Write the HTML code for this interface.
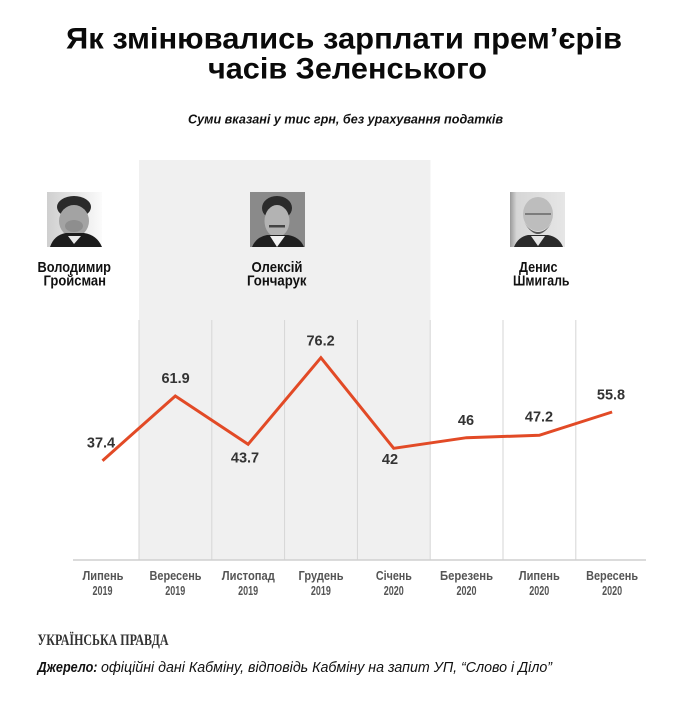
<!DOCTYPE html>
<html>
<head>
<meta charset="utf-8">
<style>
  html, body { margin:0; padding:0; background:#fff; }
  body { width:690px; height:711px; overflow:hidden; }
  svg { display:block; }
  text { font-family: "Liberation Sans", "Noto Sans CJK SC", sans-serif; }
</style>
</head>
<body>
<svg width="690" height="711" viewBox="0 0 690 711" xmlns="http://www.w3.org/2000/svg">
  <defs>
    <linearGradient id="bg1" x1="0" y1="0" x2="1" y2="0">
      <stop offset="0" stop-color="#cfcfcf"/>
      <stop offset="1" stop-color="#fbfbfb"/>
    </linearGradient>
    <linearGradient id="bg3" x1="0" y1="0" x2="1" y2="0">
      <stop offset="0" stop-color="#9a9a9a"/>
      <stop offset="0.12" stop-color="#d6d6d6"/>
      <stop offset="1" stop-color="#e6e6e6"/>
    </linearGradient>
  </defs>

  <rect x="0" y="0" width="690" height="711" fill="#fff"/>

  <!-- Title -->
  <text x="66" y="48.5" font-size="30" font-weight="bold" fill="#0a0a0a" textLength="556" lengthAdjust="spacingAndGlyphs">Як змінювались зарплати прем’єрів</text>
  <text x="208" y="78.5" font-size="30" font-weight="bold" fill="#0a0a0a" textLength="279" lengthAdjust="spacingAndGlyphs">часів Зеленського</text>

  <!-- Subtitle -->
  <text x="188" y="123.5" font-size="13" font-weight="bold" font-style="italic" fill="#111" textLength="315" lengthAdjust="spacingAndGlyphs">Суми вказані у тис грн, без урахування податків</text>

  <!-- Gray band -->
  <rect x="139" y="160" width="291.5" height="400" fill="#f0f0f0"/>

  <!-- Grid lines -->
  <g stroke="#d6d6d6" stroke-width="1">
    <line x1="139" y1="320" x2="139" y2="560"/>
    <line x1="211.8" y1="320" x2="211.8" y2="560"/>
    <line x1="284.6" y1="320" x2="284.6" y2="560"/>
    <line x1="357.4" y1="320" x2="357.4" y2="560"/>
    <line x1="430.2" y1="320" x2="430.2" y2="560"/>
    <line x1="503" y1="320" x2="503" y2="560"/>
    <line x1="575.8" y1="320" x2="575.8" y2="560"/>
  </g>
  <line x1="73" y1="560" x2="646" y2="560" stroke="#cfcfcf" stroke-width="1.5"/>

  <!-- Photo 1: Гройсман -->
  <g>
    <rect x="47" y="192" width="55" height="55" fill="url(#bg1)"/>
    <ellipse cx="74" cy="207" rx="17" ry="11" fill="#2a2a2a"/>
    <ellipse cx="74" cy="221" rx="15" ry="16" fill="#a3a3a3"/>
    <ellipse cx="74" cy="226" rx="9" ry="6" fill="#8e8e8e"/>
    <path d="M50 247 Q54 235 66 233 L84 233 Q97 235 102 247 Z" fill="#1c1c1c"/>
    <path d="M68 236 L74 244 L81 236 Z" fill="#eaeaea"/>
  </g>

  <!-- Photo 2: Гончарук -->
  <g>
    <rect x="250" y="192" width="55" height="55" fill="#8a8a8a"/>
    <ellipse cx="277" cy="208" rx="15" ry="12" fill="#2b2b2b"/>
    <ellipse cx="277" cy="221" rx="12.5" ry="16" fill="#b3b3b3"/>
    <rect x="269" y="225" width="16" height="2.5" fill="#444"/>
    <path d="M252 247 Q256 237 267 235 L288 235 Q300 237 304 247 Z" fill="#202020"/>
    <path d="M270 236 L277 247 L285 236 Z" fill="#f2f2f2"/>
  </g>

  <!-- Photo 3: Шмигаль -->
  <g>
    <rect x="510" y="192" width="55" height="55" fill="url(#bg3)"/>
    <ellipse cx="538" cy="214" rx="15" ry="17" fill="#bdbdbd"/>
    <path d="M524 222 Q538 246 552 222 Q546 232 538 232 Q530 232 524 222 Z" fill="#555"/>
    <line x1="525" y1="214" x2="551" y2="214" stroke="#666" stroke-width="1.5"/>
    <path d="M514 247 Q518 237 528 235 L548 235 Q559 237 563 247 Z" fill="#2a2a2a"/>
    <path d="M531 236 L538 246 L545 236 Z" fill="#e6e6e6"/>
  </g>

  <!-- Names -->
  <g font-size="15" font-weight="bold" fill="#111" >
    <text x="37.5" y="272" textLength="73.5" lengthAdjust="spacingAndGlyphs">Володимир</text>
    <text x="43.5" y="285.5" textLength="62.5" lengthAdjust="spacingAndGlyphs">Гройсман</text>
    <text x="251.5" y="272" textLength="51" lengthAdjust="spacingAndGlyphs">Олексій</text>
    <text x="247" y="285.5" textLength="59.5" lengthAdjust="spacingAndGlyphs">Гончарук</text>
    <text x="519" y="272" textLength="38.5" lengthAdjust="spacingAndGlyphs">Денис</text>
    <text x="513" y="285.5" textLength="56.5" lengthAdjust="spacingAndGlyphs">Шмигаль</text>
  </g>

  <!-- Data line -->
  <polyline fill="none" stroke="#e24a26" stroke-width="3" stroke-linejoin="miter" stroke-linecap="butt"
    points="102.5,460.7 175.3,396 248.1,444.3 320.9,357.7 393.7,448.3 466.5,437.7 539.3,435.3 612.1,412"/>

  <!-- Data labels -->
  <g font-size="14.5" font-weight="bold" fill="#333" text-anchor="middle">
    <text x="101" y="447.5">37.4</text>
    <text x="175.6" y="383">61.9</text>
    <text x="245" y="462.5">43.7</text>
    <text x="320.6" y="345.5">76.2</text>
    <text x="390" y="464">42</text>
    <text x="466" y="425">46</text>
    <text x="539" y="421.5">47.2</text>
    <text x="611" y="399.5">55.8</text>
  </g>

  <!-- Axis labels -->
  <g font-size="12.5" font-weight="bold" fill="#555">
    <text x="82.5" y="580" textLength="41" lengthAdjust="spacingAndGlyphs">Липень</text>
    <text x="92.5" y="595" textLength="20" lengthAdjust="spacingAndGlyphs">2019</text>

    <text x="149.5" y="580" textLength="52" lengthAdjust="spacingAndGlyphs">Вересень</text>
    <text x="165.3" y="595" textLength="20" lengthAdjust="spacingAndGlyphs">2019</text>

    <text x="221.8" y="580" textLength="53" lengthAdjust="spacingAndGlyphs">Листопад</text>
    <text x="238.1" y="595" textLength="20" lengthAdjust="spacingAndGlyphs">2019</text>

    <text x="298.5" y="580" textLength="45" lengthAdjust="spacingAndGlyphs">Грудень</text>
    <text x="310.9" y="595" textLength="20" lengthAdjust="spacingAndGlyphs">2019</text>

    <text x="375.9" y="580" textLength="36" lengthAdjust="spacingAndGlyphs">Січень</text>
    <text x="383.7" y="595" textLength="20" lengthAdjust="spacingAndGlyphs">2020</text>

    <text x="440" y="580" textLength="53" lengthAdjust="spacingAndGlyphs">Березень</text>
    <text x="456.5" y="595" textLength="20" lengthAdjust="spacingAndGlyphs">2020</text>

    <text x="518.8" y="580" textLength="41" lengthAdjust="spacingAndGlyphs">Липень</text>
    <text x="529.3" y="595" textLength="20" lengthAdjust="spacingAndGlyphs">2020</text>

    <text x="586.1" y="580" textLength="52" lengthAdjust="spacingAndGlyphs">Вересень</text>
    <text x="602.1" y="595" textLength="20" lengthAdjust="spacingAndGlyphs">2020</text>
  </g>

  <!-- Footer logo -->
  <text x="37.5" y="645" font-family="'Liberation Serif', serif" style="font-family:'Liberation Serif', serif" font-size="15.5" font-weight="bold" fill="#333" textLength="131" lengthAdjust="spacingAndGlyphs">УКРАЇНСЬКА ПРАВДА</text>

  <!-- Source -->
  <text x="37.5" y="672" font-size="14.5" font-weight="bold" font-style="italic" fill="#111" textLength="60" lengthAdjust="spacingAndGlyphs">Джерело:</text>
  <text x="101" y="672" font-size="14.5" font-style="italic" fill="#111" textLength="451" lengthAdjust="spacingAndGlyphs">офіційні дані Кабміну, відповідь Кабміну на запит УП, “Слово і Діло”</text>
</svg>
</body>
</html>
